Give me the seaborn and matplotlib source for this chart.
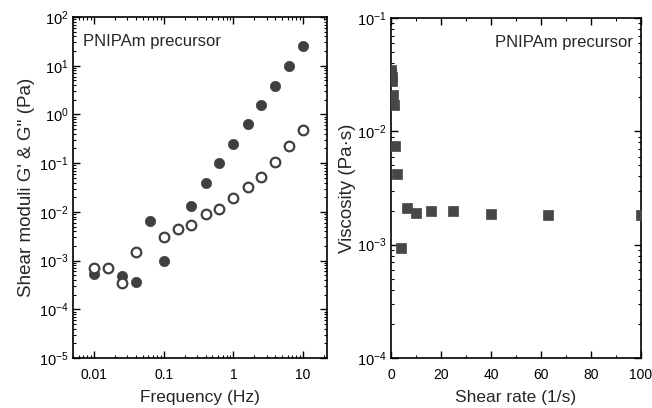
import matplotlib
matplotlib.use("Agg")
import matplotlib.pyplot as plt
import matplotlib.ticker as mticker
import numpy as np
import pandas as pd
import seaborn as sns

# G' (filled) and G'' (open) vs frequency
freq_gp = [0.01, 0.025, 0.04, 0.063, 0.1, 0.25, 0.4, 0.63, 1.0, 1.6, 2.5, 4.0, 6.3, 10.0]
g_prime = [5.4e-4, 4.9e-4, 3.6e-4, 6.4e-3, 1.0e-3, 0.013, 0.039, 0.10, 0.245, 0.63, 1.55, 3.9, 10.0, 25.0]

freq_gpp = [0.01, 0.016, 0.025, 0.04, 0.1, 0.16, 0.25, 0.4, 0.63, 1.0, 1.6, 2.5, 4.0, 6.3, 10.0]
g_dprime = [6.9e-4, 7.2e-4, 3.4e-4, 1.5e-3, 3.1e-3, 4.4e-3, 5.4e-3, 8.9e-3, 0.0112, 0.019, 0.032, 0.052, 0.107, 0.22, 0.47]

# viscosity vs shear rate
shear_rate = [0.1, 0.16, 0.25, 0.4, 0.63, 1.0, 1.6, 2.5, 4.0, 6.3, 10.0, 16.0, 25.0, 40.0, 63.0, 100.0]
viscosity = [0.035, 0.033, 0.030, 0.028, 0.021, 0.017, 0.0074, 0.0042, 9.3e-4,
             2.1e-3, 1.9e-3, 2.0e-3, 1.97e-3, 1.86e-3, 1.84e-3, 1.83e-3]

sns.set_style("ticks")
plt.rcParams["font.family"] = ["Liberation Sans", "DejaVu Sans"]
plt.rcParams["mathtext.fontset"] = "custom"
plt.rcParams["mathtext.rm"] = "Liberation Sans"
plt.rcParams["mathtext.it"] = "Liberation Sans:italic"

dark = "#404040"

fig = plt.figure(figsize=(6.52, 4.08), dpi=100)
ax1 = fig.add_axes([0.112, 0.1225, 0.3896, 0.8358])
ax2 = fig.add_axes([0.5997, 0.1225, 0.3834, 0.8333])

df_gp = pd.DataFrame({"freq": freq_gp, "G": g_prime})
df_gpp = pd.DataFrame({"freq": freq_gpp, "G": g_dprime})
df_eta = pd.DataFrame({"rate": shear_rate, "eta": viscosity})

sns.scatterplot(data=df_gp, x="freq", y="G", ax=ax1, s=55, color=dark,
                edgecolor=dark, linewidth=0.5, zorder=3)
sns.scatterplot(data=df_gpp, x="freq", y="G", ax=ax1, s=48, facecolor="white",
                edgecolor=dark, linewidth=1.6, zorder=4)
ax1.set_xscale("log")
ax1.set_yscale("log")
ax1.set_xlim(0.005, 22)
ax1.set_ylim(1e-5, 1e2)
ax1.set_xticks([0.01, 0.1, 1, 10])
ax1.set_xticklabels(["0.01", "0.1", "1", "10"])
ax1.xaxis.set_minor_locator(mticker.LogLocator(base=10, subs=np.arange(2, 10), numticks=20))
ax1.yaxis.set_major_locator(mticker.LogLocator(base=10, numticks=20))
ax1.yaxis.set_minor_locator(mticker.LogLocator(base=10, subs=np.arange(2, 10), numticks=20))
ax1.set_xlabel("Frequency (Hz)", fontsize=12.5, labelpad=6)
ax1.set_ylabel("Shear moduli G' & G'' (Pa)", fontsize=13.5, labelpad=3)
ax1.text(0.038, 0.927, "PNIPAm precursor", transform=ax1.transAxes,
         fontsize=12, ha="left", va="center")

sns.scatterplot(data=df_eta, x="rate", y="eta", ax=ax2, s=48, marker="s",
                color="#474747", edgecolor="#474747", linewidth=0.5, zorder=3)
ax2.set_yscale("log")
ax2.set_xlim(0, 100)
ax2.set_ylim(1e-4, 1e-1)
ax2.set_xticks([0, 20, 40, 60, 80, 100])
ax2.xaxis.set_minor_locator(mticker.MultipleLocator(10))
ax2.yaxis.set_minor_locator(mticker.LogLocator(base=10, subs=np.arange(2, 10), numticks=20))
ax2.set_xlabel("Shear rate (1/s)", fontsize=12.5, labelpad=6)
ax2.set_ylabel("Viscosity (Pa\u00b7s)", fontsize=13.5, labelpad=1)
ax2.text(0.968, 0.927, "PNIPAm precursor", transform=ax2.transAxes,
         fontsize=12, ha="right", va="center")

for ax in (ax1, ax2):
    for sp in ax.spines.values():
        sp.set_visible(True)
        sp.set_linewidth(1.2)
        sp.set_color("black")
    ax.xaxis.set_minor_formatter(mticker.NullFormatter())
    ax.yaxis.set_minor_formatter(mticker.NullFormatter())
    ax.tick_params(which="both", direction="in", top=True, right=True, colors="black")
    ax.tick_params(which="major", length=5, width=1.0)
    ax.tick_params(which="minor", length=2.5, width=0.8)
    ax.tick_params(axis="x", labelsize=10, pad=7)
    ax.tick_params(axis="y", labelsize=10.5, pad=3)
    ax.grid(False)

fig.savefig("out.png", dpi=100)
